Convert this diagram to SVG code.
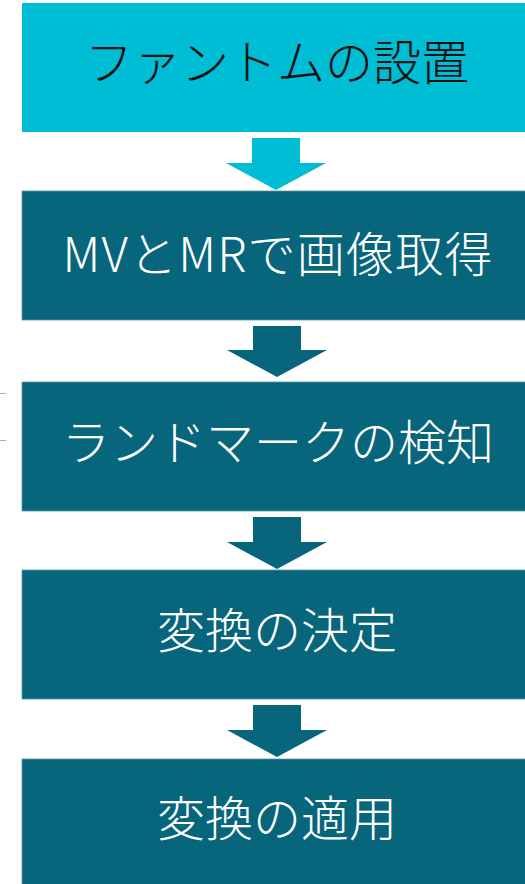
<svg xmlns="http://www.w3.org/2000/svg" width="525" height="884" viewBox="0 0 525 884">
<style>
.box{fill:#07657C;stroke:#5a97a8;stroke-width:0.8}
.box1{fill:#00BDD6}
.arr{fill:#07657C}
.arr1{fill:#00BDD6}
.lbl{font-family:"Noto Sans CJK JP","Noto Sans",sans-serif;font-size:48px;font-weight:300;text-anchor:middle;fill:#ffffff}
.lbl1{fill:#111111}
.tick{stroke:#b0b0b0;stroke-width:1}
</style>
<rect width="525" height="884" fill="#ffffff"/>
<g id="ticks">
<line class="tick" x1="0" y1="393.5" x2="6" y2="393.5"/>
<line class="tick" x1="0" y1="440.5" x2="6" y2="440.5"/>
</g>
<g id="connectors">
<polygon class="arr1" points="252,138 300,138 300,163 326,163 276,190 226,163 252,163"/>
<polygon class="arr" points="253,326 301,326 301,350 327,350 277,377 227,350 253,350"/>
<polygon class="arr" points="253,517 301,517 301,542 327,542 277,569 227,542 253,542"/>
<polygon class="arr" points="253,705 301,705 301,730 327,730 277,757 227,730 253,730"/>
</g>
<g id="n1">
<rect class="box1" x="22" y="3" width="504" height="129"/>
<text class="lbl lbl1" x="277" y="80">ファントムの設置</text>
</g>
<g id="n2">
<rect class="box" x="22" y="191" width="504" height="129"/>
<text class="lbl" x="278" y="272" letter-spacing="1.2">MVとMRで画像取得</text>
</g>
<g id="n3">
<rect class="box" x="22" y="382" width="504" height="129"/>
<text class="lbl" x="278" y="460">ランドマークの検知</text>
</g>
<g id="n4">
<rect class="box" x="22" y="570" width="504" height="129"/>
<text class="lbl" x="277" y="648">変換の決定</text>
</g>
<g id="n5">
<rect class="box" x="22" y="759" width="504" height="126"/>
<text class="lbl" x="277" y="836">変換の適用</text>
</g>
</svg>
